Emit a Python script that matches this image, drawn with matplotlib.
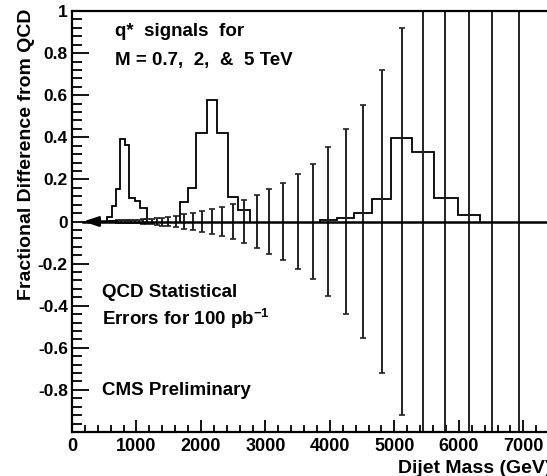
import numpy as np
import matplotlib
matplotlib.use("Agg")
import matplotlib.pyplot as plt
from matplotlib.ticker import MultipleLocator, FixedLocator, FixedFormatter

plt.rcParams['font.family'] = ['Liberation Sans', 'DejaVu Sans']
plt.rcParams['mathtext.default'] = 'regular'
plt.rcParams['axes.unicode_minus'] = False

# q* signal histograms (bin edges in GeV, fractional difference)
sig1_edges = [545, 620, 680, 750, 818, 888, 977, 1055, 1162]
sig1_vals = [0.022, 0.072, 0.155, 0.392, 0.364, 0.11, 0.098, 0.062]
sig2_edges = [1675, 1804, 1923, 2089, 2254, 2424, 2580, 2761]
sig2_vals = [0.094, 0.157, 0.42, 0.577, 0.42, 0.116, 0.057]
sig3_edges = [3850, 4108, 4375, 4660, 4950, 5280, 5615, 5985, 6330]
sig3_vals = [0.006, 0.016, 0.04, 0.107, 0.396, 0.33, 0.113, 0.033]

# QCD statistical errors (bin centres in GeV, half-size of error)
qcd_mass = [590, 632, 676, 721, 767, 817, 868, 923, 980, 1039, 1101, 1167,
            1236, 1314, 1391, 1494, 1613, 1742, 1872, 2021, 2167, 2322, 2493,
            2668, 2865, 3060, 3277, 3499, 3732, 3969, 4243, 4516, 4811, 5121,
            5446, 5783, 6155, 6522, 6935]
qcd_err = [0.004, 0.004, 0.004, 0.005, 0.005, 0.006, 0.006, 0.007, 0.008,
           0.009, 0.010, 0.011, 0.013, 0.016, 0.019, 0.023, 0.028, 0.035,
           0.041, 0.05, 0.06, 0.07, 0.085, 0.103, 0.125, 0.155, 0.183, 0.224,
           0.272, 0.352, 0.44, 0.554, 0.72, 0.92, 1.4, 1.8, 2.4, 3.2, 4.5]

ytick_vals = [-0.8, -0.6, -0.4, -0.2, 0, 0.2, 0.4, 0.6, 0.8, 1]
ytick_text = ['-0.8', '-0.6', '-0.4', '-0.2', '0', '0.2', '0.4', '0.6', '0.8', '1']

fig = plt.figure(figsize=(5.47, 4.76), dpi=100)
ax = fig.add_axes([0.1316, 0.0924, 1.0156 - 0.1316, 0.9769 - 0.0924])

for edges, vals in [(sig1_edges, sig1_vals), (sig2_edges, sig2_vals), (sig3_edges, sig3_vals)]:
    ax.stairs(vals, edges, baseline=0, color='black', lw=1.3)

ax.errorbar(qcd_mass, np.zeros(len(qcd_mass)), yerr=qcd_err, fmt='none',
            ecolor='#222222', elinewidth=1.4, capsize=2.0, capthick=1.2)

# zero line and arrow
ax.plot([175, 7500], [0, 0], color='black', lw=1.8)
ax.annotate('', xy=(175, 0), xytext=(700, 0),
            arrowprops=dict(arrowstyle='-|>,head_length=0.9,head_width=0.3',
                            color='black', lw=1.8, shrinkA=0, shrinkB=0))

ax.set_xlim(0, 7500)
ax.set_ylim(-1, 1)
ax.xaxis.set_major_locator(FixedLocator([0, 1000, 2000, 3000, 4000, 5000, 6000, 7000]))
ax.xaxis.set_minor_locator(MultipleLocator(200))
ax.yaxis.set_major_locator(FixedLocator(ytick_vals))
ax.yaxis.set_major_formatter(FixedFormatter(ytick_text))
ax.yaxis.set_minor_locator(MultipleLocator(0.04))
ax.tick_params(which='both', direction='in', top=False, right=False, width=1.3)
ax.tick_params(axis='y', which='major', length=12, pad=3, labelsize=12.5)
ax.tick_params(axis='y', which='minor', length=7)
ax.tick_params(axis='x', which='major', length=9, pad=4, labelsize=13)
ax.tick_params(axis='x', which='minor', length=5)
for lab in ax.get_xticklabels() + ax.get_yticklabels():
    lab.set_fontweight('bold')
for s in ['left', 'bottom', 'top']:
    ax.spines[s].set_linewidth(1.6)
ax.spines['right'].set_visible(False)

fig.text(0.049, 0.675, 'Fractional Difference from QCD', rotation=90,
         ha='center', va='center', fontsize=14, fontweight='bold')
fig.text(0.7276, 0.0063, 'Dijet Mass (GeV)', ha='left', va='baseline',
         fontsize=14, fontweight='bold')

fig.text(0.210, 0.9244, 'q*  signals  for', fontsize=13.5, fontweight='bold', va='baseline')
fig.text(0.210, 0.8634, 'M = 0.7,  2,  &  5 TeV', fontsize=13.5, fontweight='bold', va='baseline')
fig.text(0.186, 0.3767, 'QCD Statistical', fontsize=13.5, fontweight='bold', va='baseline')
fig.text(0.186, 0.3172, 'Errors for 100 pb$^{-1}$', fontsize=13.5, fontweight='bold', va='baseline')
fig.text(0.186, 0.1702, 'CMS Preliminary', fontsize=13.5, fontweight='bold', va='baseline')

fig.savefig('out.png', dpi=100)
